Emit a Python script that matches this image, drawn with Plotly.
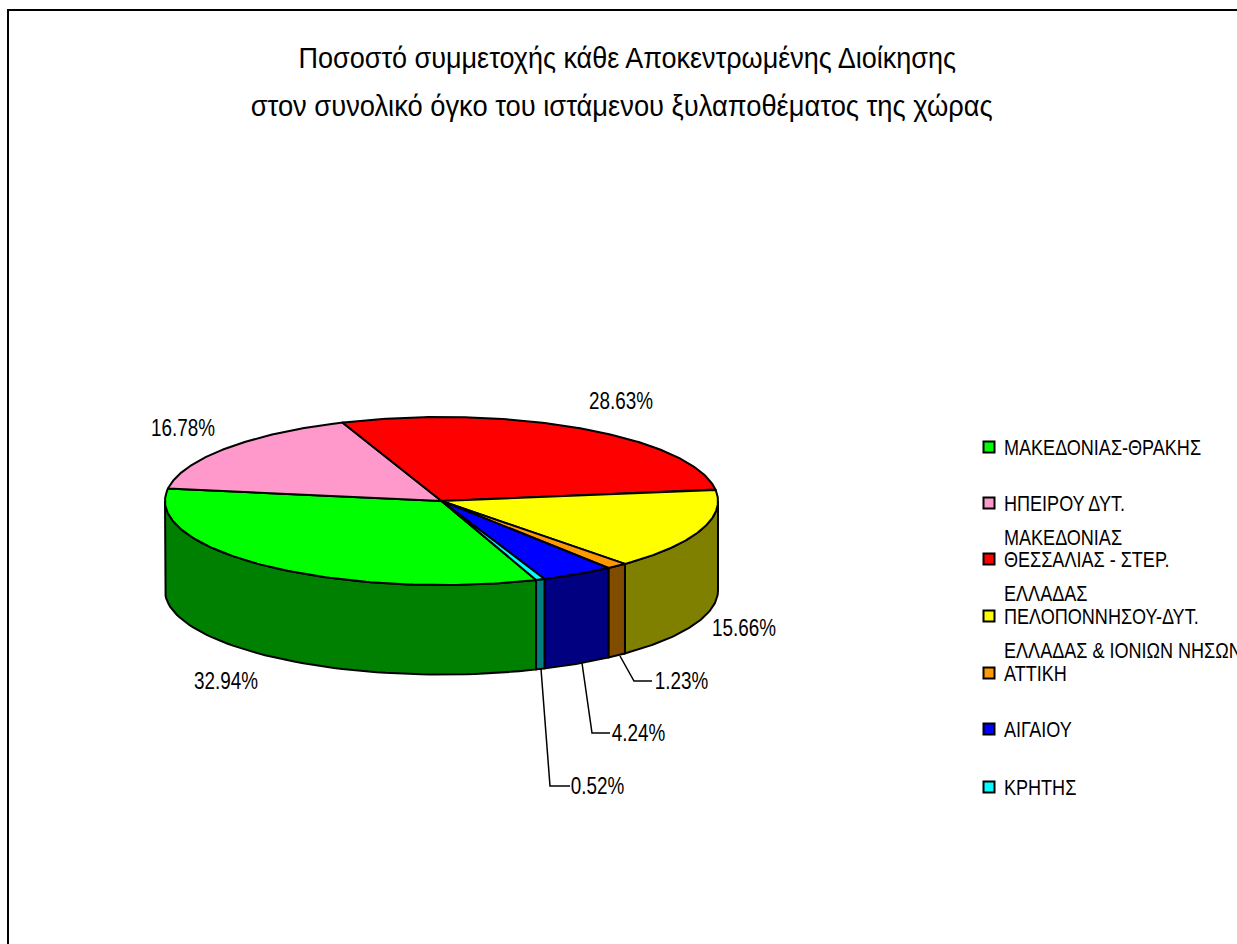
import numpy as np
import plotly.graph_objects as go

# --- data ---
categories = [
    ["ΜΑΚΕΔΟΝΙΑΣ-ΘΡΑΚΗΣ"],
    ["ΗΠΕΙΡΟΥ ΔΥΤ.", "ΜΑΚΕΔΟΝΙΑΣ"],
    ["ΘΕΣΣΑΛΙΑΣ - ΣΤΕΡ.", "ΕΛΛΑΔΑΣ"],
    ["ΠΕΛΟΠΟΝΝΗΣΟΥ-ΔΥΤ.", "ΕΛΛΑΔΑΣ & ΙΟΝΙΩΝ ΝΗΣΩΝ"],
    ["ΑΤΤΙΚΗ"],
    ["ΑΙΓΑΙΟΥ"],
    ["ΚΡΗΤΗΣ"],
]
values = [32.94, 16.78, 28.63, 15.66, 1.23, 4.24, 0.52]
title_lines = [
    "Ποσοστό συμμετοχής κάθε Αποκεντρωμένης Διοίκησης",
    "στον συνολικό όγκο του ιστάμενου ξυλαποθέματος της χώρας",
]

# --- style / layout ---
top_colors = ["#00FF00", "#FF99CC", "#FF0000", "#FFFF00", "#FF9900", "#0000FF", "#00FFFF"]
side_colors = ["#008000", "#804D66", "#800000", "#808000", "#804D00", "#000080", "#008080"]
CX, CY, RX, RY, DEPTH = 441.5, 501.0, 276.5, 84.0, 89.5
START_DEG = -70.0
FONT = "Liberation Sans, Arial, sans-serif"
label_pos = [(226, 681), (183, 428), (621, 401), (744, 628), (681, 681), (638, 733), (597, 786)]
leaders = {4: [(620, 656), (634, 681), (652, 681)],
           5: [(582, 663), (592, 733), (610, 733)],
           6: [(541, 669), (550, 786), (570, 786)]}
legend_y = [447, 503, 559, 616, 673, 729, 787]
LEGEND_LINE = 34
title_pos = [(627.5, 57), (621, 105)]

fig = go.Figure()

def ell(t, dy=0.0):
    r = np.radians(t)
    return CX + RX * np.cos(r), CY - RY * np.sin(r) + dy

def poly(x, y, fill):
    fig.add_trace(go.Scatter(x=list(x), y=list(y), mode="lines", fill="toself", fillcolor=fill,
                             line=dict(color="black", width=2), hoverinfo="skip", showlegend=False))

# slice boundaries, clockwise from the start angle
ang = START_DEG - np.concatenate([[0], np.cumsum(values)]) * 360.0 / sum(values)

# side walls: only the part of each slice on the front half of the ellipse
for i in range(len(values)):
    for win_hi, win_lo in [(0.0, -180.0), (-360.0, -540.0)]:
        hi, lo = min(ang[i], win_hi), max(ang[i + 1], win_lo)
        if hi <= lo:
            continue
        t = np.linspace(hi, lo, 60)
        xt, yt = ell(t)
        xb, yb = ell(t[::-1], DEPTH)
        poly(np.r_[xt, xb, xt[0]], np.r_[yt, yb, yt[0]], side_colors[i])

# top faces
for i in range(len(values)):
    t = np.linspace(ang[i], ang[i + 1], 120)
    xt, yt = ell(t)
    poly(np.r_[CX, xt, CX], np.r_[CY, yt, CY], top_colors[i])

# leader lines
for pts in leaders.values():
    fig.add_trace(go.Scatter(x=[p[0] for p in pts], y=[p[1] for p in pts], mode="lines",
                             line=dict(color="black", width=1.5), hoverinfo="skip", showlegend=False))

# legend swatches
fig.add_trace(go.Scatter(x=[989] * len(values), y=legend_y, mode="markers",
                         marker=dict(symbol="square", size=11, color=top_colors,
                                     line=dict(color="black", width=2)),
                         hoverinfo="skip", showlegend=False))

ann = []
for (x, y), v in zip(label_pos, values):
    ann.append(dict(x=x, y=y, text=f"{v:.2f}%", showarrow=False, xanchor="center", yanchor="middle",
                    font=dict(family=FONT, size=23, color="black")))
for y0, lines in zip(legend_y, categories):
    for j, line in enumerate(lines):
        ann.append(dict(x=1002, y=y0 + j * LEGEND_LINE, text=line, showarrow=False, xanchor="left",
                        yanchor="middle", font=dict(family=FONT, size=22, color="black")))
for (x, y), line in zip(title_pos, title_lines):
    ann.append(dict(x=x, y=y, text=line, showarrow=False, xanchor="center", yanchor="middle",
                    font=dict(family=FONT, size=30, color="black")))

fig.update_layout(
    width=1237, height=944, margin=dict(l=0, r=0, t=0, b=0),
    paper_bgcolor="white", plot_bgcolor="white", showlegend=False,
    xaxis=dict(range=[0, 1237], visible=False, fixedrange=True),
    yaxis=dict(range=[944, 0], visible=False, fixedrange=True),
    annotations=ann,
    shapes=[dict(type="rect", x0=8, y0=10, x1=1300, y1=1000, line=dict(color="black", width=2),
                 fillcolor="rgba(0,0,0,0)", layer="above")],
)

# The reference text is horizontally condensed; squeeze glyphs in the browser.
post = """
document.body.style.margin='0';document.body.style.overflow='hidden';
function squeeze(){
  document.querySelectorAll('text.annotation-text').forEach(function(t){
    if(t.dataset.sq) return;
    var fs=parseFloat(t.style.fontSize);
    var n=t.textContent.length;
    var f = fs>=28 ? (n>50 ? 0.91 : 0.90) : 0.82;
    var w=t.getComputedTextLength();
    t.setAttribute('textLength', w*f);
    t.setAttribute('lengthAdjust','spacingAndGlyphs');
    if(fs==22){ t.setAttribute('x', parseFloat(t.getAttribute('x')) - w*(1-f)/2); }
    t.dataset.sq='1';
  });
}
squeeze(); setTimeout(squeeze,50); setTimeout(squeeze,300);
"""
fig.write_html("out.html", config=dict(displayModeBar=False), post_script=post)
